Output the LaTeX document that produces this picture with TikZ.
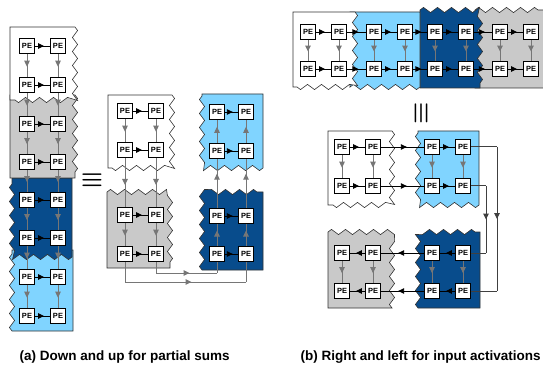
\documentclass[tikz,border=0pt]{standalone}
\usepackage{fontspec}
\usepackage{graphicx}
\usepackage{bm}
\usetikzlibrary{arrows.meta,decorations.pathmorphing,decorations.markings}
\newfontfamily\pefont{Liberation Sans}
\definecolor{lblue}{RGB}{128,212,255}
\definecolor{dblue}{RGB}{8,76,140}
\definecolor{lgray}{RGB}{201,201,201}
\definecolor{agray}{RGB}{118,118,118}
\tikzset{
  pe/.style={draw=black,fill=white,line width=0.6pt,minimum size=15pt,inner sep=0pt,
    font=\pefont\bfseries\fontsize{7.5}{7.5}\selectfont},
  tile/.style={draw=black!80,line width=0.6pt,decoration={zigzag,segment length=14pt,amplitude=2.6pt}},
  midtip/.style={postaction={decorate},decoration={markings,
    mark=at position #1 with {\arrow{Triangle[length=6pt,width=5.5pt]}}}},
  varr/.style={agray,line width=1pt,midtip=0.55},
  uarr/.style={agray,line width=1pt,midtip=0.7},
  harr/.style={black,line width=0.9pt,midtip=0.6},
  gline/.style={agray,line width=1pt},
  kline/.style={black!75,line width=1pt},
  karr/.style={kline,midtip=0.5},
  caption/.style={anchor=west,font=\pefont\bfseries\fontsize{13.5}{16}\selectfont}
}
\begin{document}
\begin{tikzpicture}[x=1pt,y=-1pt]
\useasboundingbox (0,0) rectangle (543,366);

% (a) one column
\filldraw[tile,fill=lblue] (73,250) -- (73,331) -- (12,331) decorate{-- (12,250)} -- cycle;
\filldraw[tile,fill=dblue] (72,257) decorate{-- (12,257) -- (12,178)} -- (72,178) -- cycle;
\filldraw[tile,fill=lgray] (10,178) -- (10,95) -- (75,95) decorate{-- (75,178)} -- cycle;
\filldraw[tile,fill=white] (10,100) -- (10,27) -- (75,27) decorate{-- (75,100) -- (10,100)} -- cycle;

\foreach \r/\y in {1/46,2/85,3/124,4/162,5/200,6/238,7/277,8/316}{
  \node[pe] (cl\r) at (27,\y) {PE};
  \node[pe] (cr\r) at (58,\y) {PE};
  \draw[harr] (cl\r) -- (cr\r);
}
\foreach \r/\s in {1/2,2/3,3/4,4/5,5/6,6/7,7/8}{
  \draw[varr] (cl\r) -- (cl\s);
  \draw[varr] (cr\r) -- (cr\s);
}

\node (eqa) at (92,180) {\scalebox{2.5}{$\bm{\equiv}$}};

% (a) folded
\filldraw[tile,fill=white] (108,168) -- (108,95) -- (172,95) decorate{-- (172,168) -- (108,168)} -- cycle;
\filldraw[tile,fill=lgray] (170,268) -- (107,268) -- (107,192) decorate{-- (170,192) -- (170,268)} -- cycle;
\filldraw[tile,fill=lblue] (202,94) -- (263,94) -- (263,168) decorate{-- (202,168) -- (202,94)} -- cycle;
\filldraw[tile,fill=dblue] (263,192) -- (263,270) -- (202,270) decorate{-- (202,192) -- (263,192)} -- cycle;

\foreach \p/\xa/\xb/\ya/\yb in {w/125/156/111/150,g/125/156/215/254,l/217/246/112/151,d/217/246/216/254}{
  \node[pe] (\p l1) at (\xa,\ya) {PE};
  \node[pe] (\p r1) at (\xb,\ya) {PE};
  \node[pe] (\p l2) at (\xa,\yb) {PE};
  \node[pe] (\p r2) at (\xb,\yb) {PE};
  \draw[harr] (\p l1) -- (\p r1);
  \draw[harr] (\p l2) -- (\p r2);
}
\draw[varr] (wl1) -- (wl2);
\draw[varr] (wr1) -- (wr2);
\draw[varr] (wl2) -- (gl1);
\draw[varr] (wr2) -- (gr1);
\draw[varr] (gl1) -- (gl2);
\draw[varr] (gr1) -- (gr2);
\draw[uarr] (dl2) -- (dl1);
\draw[uarr] (dr2) -- (dr1);
\draw[uarr] (dl1) -- (ll2);
\draw[uarr] (dr1) -- (lr2);
\draw[uarr] (ll2) -- (ll1);
\draw[uarr] (lr2) -- (lr1);

\coordinate (ca) at (156,273);
\coordinate (cb) at (217,273);
\coordinate (cc) at (125,282);
\coordinate (cd) at (246,282);
\draw[gline] (gr2) -- (ca);
\draw[varr] (ca) -- (cb);
\draw[gline] (cb) -- (dl2);
\draw[gline] (gl2) -- (cc);
\draw[varr] (cc) -- (cd);
\draw[gline] (cd) -- (dr2);

% (b) one row
\filldraw[tile,fill=lgray] (544,88) -- (475,88) -- (475,10) decorate{-- (544,10)} -- cycle;
\filldraw[tile,fill=dblue] (420,88) -- (420,10) decorate{-- (480,10) -- (480,88)} -- cycle;
\filldraw[tile,fill=lblue] (420,12) -- (420,87) decorate{-- (350,87)} -- (350,12) -- cycle;
\filldraw[tile,fill=white] (293,87) -- (293,12) -- (355,12) decorate{-- (355,87) -- (293,87)} -- cycle;

\foreach \i/\x in {1/308,2/339,3/374,4/405,5/435,6/466,7/500,8/531}{
  \node[pe] (t\i) at (\x,32) {PE};
  \node[pe] (u\i) at (\x,69) {PE};
  \draw[varr] (t\i) -- (u\i);
}
\foreach \i/\j in {1/2,2/3,3/4,4/5,5/6,6/7,7/8}{
  \draw[harr] (t\i) -- (t\j);
  \draw[harr] (u\i) -- (u\j);
}

\node[rotate=90] (eqb) at (421,113) {\scalebox{2.5}{$\bm{\equiv}$}};

% (b) folded
\filldraw[tile,fill=white] (328,205) -- (328,131) -- (392,131) decorate{-- (392,205) -- (328,205)} -- cycle;
\filldraw[tile,fill=lblue] (418,131) -- (479,131) -- (479,205) decorate{-- (418,205) -- (418,131)} -- cycle;
\filldraw[tile,fill=lgray] (392,308) -- (328,308) -- (328,232) decorate{-- (392,232) -- (392,308)} -- cycle;
\filldraw[tile,fill=dblue] (480,232) -- (480,308) -- (418,308) decorate{-- (418,232) -- (480,232)} -- cycle;

\foreach \p/\xa/\xb/\ya/\yb in {bw/342/373/147/186,bl/432/463/147/186,bg/342/373/253/291,bd/432/463/253/291}{
  \node[pe] (\p l1) at (\xa,\ya) {PE};
  \node[pe] (\p r1) at (\xb,\ya) {PE};
  \node[pe] (\p l2) at (\xa,\yb) {PE};
  \node[pe] (\p r2) at (\xb,\yb) {PE};
  \draw[varr] (\p l1) -- (\p l2);
  \draw[varr] (\p r1) -- (\p r2);
}
\foreach \n in {1,2}{
  \draw[harr] (bwl\n) -- (bwr\n);
  \draw[harr] (bwr\n) -- (bll\n);
  \draw[harr] (bll\n) -- (blr\n);
  \draw[harr] (bdr\n) -- (bdl\n);
  \draw[harr] (bdl\n) -- (bgr\n);
  \draw[harr] (bgr\n) -- (bgl\n);
}

\coordinate (ra) at (497,147);
\coordinate (rb) at (497,291);
\coordinate (rc) at (486,186);
\coordinate (rd) at (486,253);
\draw[kline] (blr1) -- (ra);
\draw[karr] (ra) -- (rb);
\draw[kline] (rb) -- (bdr2);
\draw[kline] (blr2) -- (rc);
\draw[karr] (rc) -- (rd);
\draw[kline] (rd) -- (bdr1);

\node[caption] (capa) at (16,357) {(a) Down and up for partial sums};
\node[caption] (capb) at (297,357) {(b) Right and left for input activations};

\end{tikzpicture}
\end{document}
